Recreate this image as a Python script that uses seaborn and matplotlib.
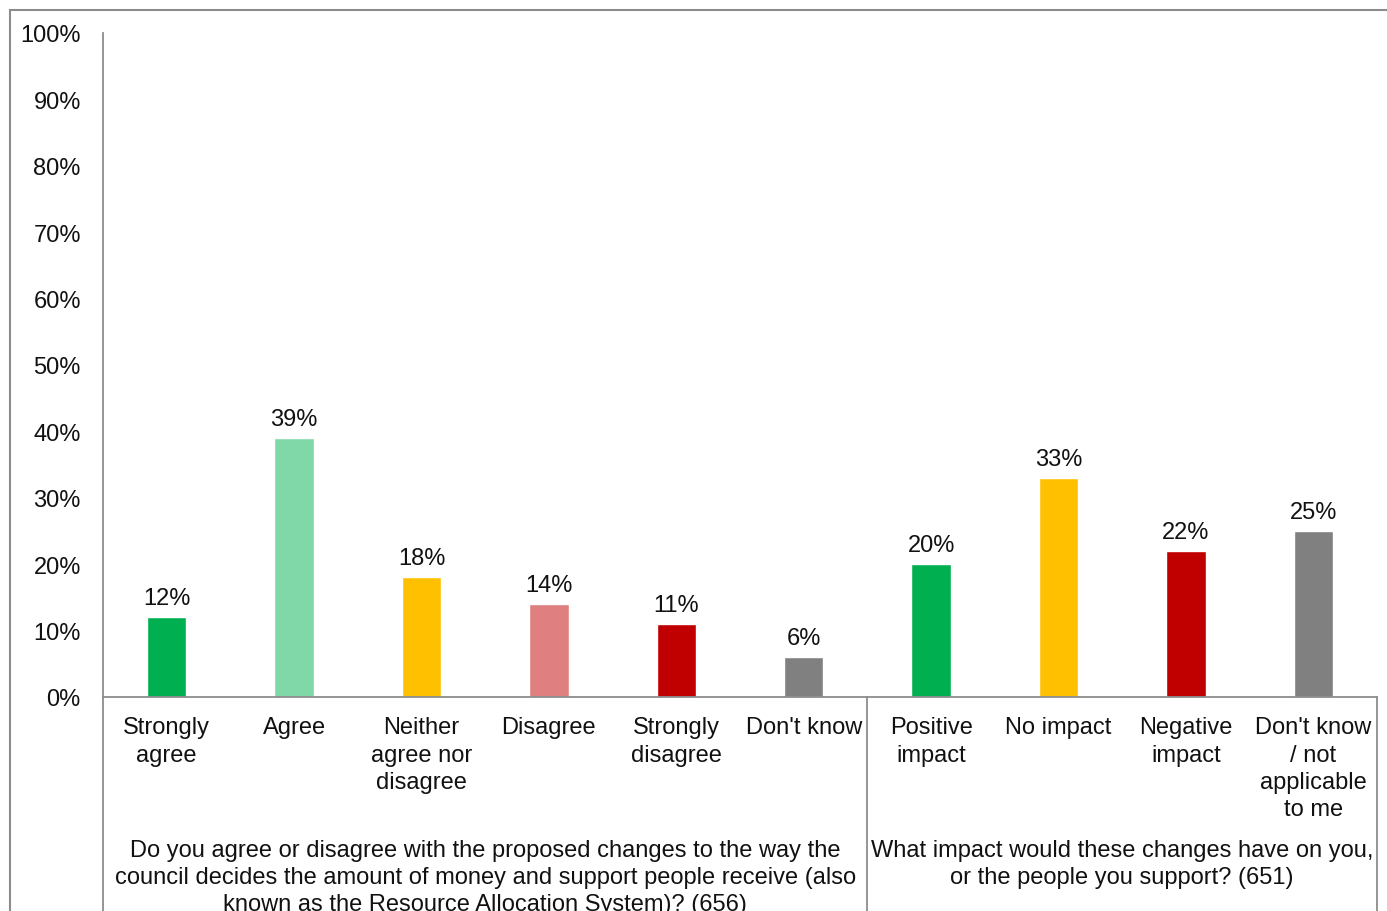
import matplotlib
matplotlib.use("Agg")
import matplotlib.pyplot as plt
import matplotlib.transforms as mtransforms
from matplotlib.patches import Rectangle
import seaborn as sns
import pandas as pd

# ---- data ----
keys = ["sa", "ag", "ne", "di", "sd", "dk1", "pi", "ni", "neg", "dk2"]
labels = ["Strongly\nagree", "Agree", "Neither\nagree nor\ndisagree", "Disagree",
          "Strongly\ndisagree", "Don't know", "Positive\nimpact", "No impact",
          "Negative\nimpact", "Don't know\n/ not\napplicable\nto me"]
values = [12, 39, 18, 14, 11, 6, 20, 33, 22, 25]
colors = ["#00B050", "#80D8A8", "#FFC000", "#DF7F7F", "#C00000", "#808080",
          "#00B050", "#FFC000", "#C00000", "#808080"]
group_labels = [
    "Do you agree or disagree with the proposed changes to the way the\n"
    "council decides the amount of money and support people receive (also\n"
    "known as the Resource Allocation System)? (656)",
    "What impact would these changes have on you,\nor the people you support? (651)",
]
group_spans = [(0, 5), (6, 9)]
yticks = [0, 10, 20, 30, 40, 50, 60, 70, 80, 90, 100]

sns.set_theme(style="white")
plt.rcParams["font.family"] = ["Liberation Sans", "DejaVu Sans"]
FS = 17
LS = 1.3

W, H = 1387, 912
fig = plt.figure(figsize=(W / 100, H / 100), dpi=100)
ax = fig.add_axes([103 / W, (H - 698) / H, (1377 - 103) / W, (698 - 34) / H])

df = pd.DataFrame({"key": keys, "value": values})
sns.barplot(data=df, x="key", y="value", hue="key", palette=colors,
            order=keys, hue_order=keys, legend=False, width=0.31, ax=ax,
            saturation=1)

for c in ax.containers:
    ax.bar_label(c, labels=[f"{v:.0f}%" for v in c.datavalues], padding=6,
                 fontsize=FS, color="#111111")

ax.set_ylim(0, 100)
ax.set_xlim(-0.5, len(keys) - 0.5)
ax.set_yticks(yticks)
ax.set_yticklabels([f"{t}%" for t in yticks], fontsize=FS, color="#111111")
ax.set_xticks(range(len(keys)))
ax.set_xticklabels(labels, fontsize=FS, color="#111111", linespacing=LS,
                   va="top")
ax.tick_params(axis="x", length=0, pad=14)
ax.tick_params(axis="y", length=0, pad=16)
ax.set_xlabel("")
ax.set_ylabel("")

for s in ["top", "right"]:
    ax.spines[s].set_visible(False)
for s in ["left", "bottom"]:
    ax.spines[s].set_color("#8c8c8c")
    ax.spines[s].set_linewidth(1.3)

# table-like lines below the axis
trans = mtransforms.blended_transform_factory(ax.transData, ax.transAxes)
for xb in [-0.5, 5.5, 9.5]:
    ax.plot([xb, xb], [0, -0.4], transform=trans, color="#8c8c8c", lw=1.3,
            clip_on=False)

for (a, b), txt in zip(group_spans, group_labels):
    ax.text((a + b) / 2, (698 - 840) / (698 - 34), txt, transform=trans,
            ha="center", va="top", fontsize=FS, color="#111111",
            linespacing=LS)

# outer chart border (partially clipped in reference)
fig.patches.append(Rectangle((10 / W, -0.02), 1.5, (H - 10.5) / H + 0.02,
                             transform=fig.transFigure, fill=False,
                             edgecolor="#8c8c8c", lw=1.5))

fig.savefig("out.png", dpi=100)
